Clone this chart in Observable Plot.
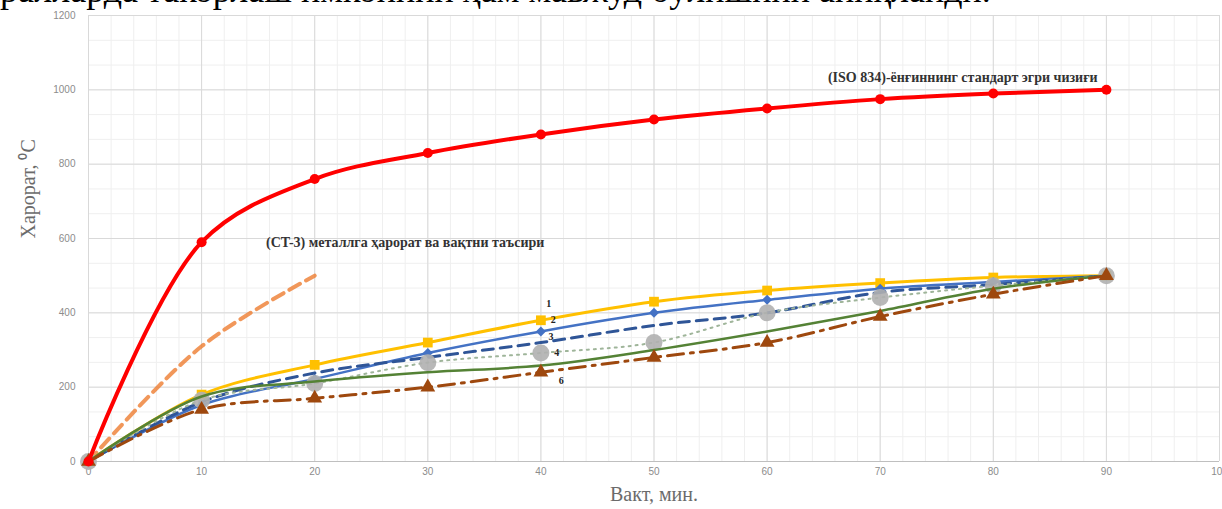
<!DOCTYPE html>
<html><head><meta charset="utf-8">
<script src="https://cdn.jsdelivr.net/npm/d3@7"></script>
<script src="https://cdn.jsdelivr.net/npm/@observablehq/plot@0.6"></script>
<style>
html,body{margin:0;padding:0;background:#fff;overflow:hidden;}
#wrap{position:relative;width:1222px;height:509px;}
#top{position:absolute;left:0;top:-30px;font:36px "Liberation Serif";line-height:40px;color:#000;white-space:nowrap;z-index:2;}
#chart{position:absolute;left:0;top:0;}
</style></head><body>
<div id="wrap"><div id="top">ралларда такорлаш имконини ҳам мавжуд бўлишини аниқлайди.</div><div id="chart"></div></div>
<script>
// ---- data ----
const time = [0, 10, 20, 30, 40, 50, 60, 70, 80, 90];
const iso834 = [0, 590, 760, 830, 880, 920, 950, 975, 990, 1000];
const ct3Time = [0, 10, 20];
const ct3 = [0, 310, 500];
const s1 = [0, 180, 260, 320, 380, 430, 460, 480, 495, 500];
const s2 = [0, 152, 222, 292, 350, 400, 435, 465, 483, 500];
const s3 = [0, 160, 238, 280, 320, 366, 400, 455, 476, 500];
const s4 = [0, 165, 210, 266, 292, 320, 400, 441, 473, 500];
const s5 = [0, 175, 215, 240, 258, 300, 350, 405, 465, 500];
const s6 = [0, 140, 170, 200, 240, 280, 320, 390, 450, 500];
const xTicks = [0, 10, 20, 30, 40, 50, 60, 70, 80, 90, 100];
const yTicks = [0, 200, 400, 600, 800, 1000, 1200];
const xMinor = d3.range(0, 101, 2);
const yMinor = d3.range(0, 1201, 200 / 3);
const seriesLabels = ["1", "2", "3", "4", "6"];
const seriesLabelX = [40.7, 41.1, 40.9, 41.4, 41.8];
const seriesLabelY = [425, 380, 336, 293, 218];
const isoTitle = "(ISO 834)-ёнғиннинг стандарт эгри чизиғи";
const ctTitle = "(CT-3) металлга ҳарорат ва вақтни таъсири";

const tbl = (xs, ys) => xs.map((t, i) => ({t, v: ys[i]}));
const line = (xs, ys, o) => Plot.line(tbl(xs, ys), {x: "t", y: "v", curve: "catmull-rom", ...o});
const dots = (xs, ys, o) => Plot.dot(tbl(xs, ys), {x: "t", y: "v", ...o});
const labs = seriesLabels.map((s, i) => ({s, x: seriesLabelX[i], y: seriesLabelY[i]}));

const chart = Plot.plot({
  width: 1222, height: 509,
  marginLeft: 88, marginRight: 3, marginTop: 15, marginBottom: 48,
  x: {domain: [0, 100], label: null},
  y: {domain: [0, 1200], label: null},
  style: {fontFamily: "Liberation Serif", background: "transparent"},
  marks: [
    Plot.ruleX(xMinor, {stroke: "#efefef", strokeWidth: 1}),
    Plot.ruleY(yMinor, {stroke: "#efefef", strokeWidth: 1}),
    Plot.ruleX(xTicks, {stroke: "#d9d9d9", strokeWidth: 1}),
    Plot.ruleY(yTicks, {stroke: "#d9d9d9", strokeWidth: 1}),
    Plot.ruleY([0], {stroke: "#bfbfbf"}),
    Plot.axisX({ticks: xTicks, tickFormat: d3.format("d"), tickSize: 0, tickPadding: 6, fontSize: 10, color: "#8c8c8c", fontFamily: "Liberation Sans", label: null}),
    Plot.axisY({ticks: yTicks, tickFormat: d3.format("d"), tickSize: 0, tickPadding: 13, fontSize: 10, color: "#8c8c8c", fontFamily: "Liberation Sans", label: null}),
    Plot.text(["Вакт, мин."], {frameAnchor: "bottom", dy: 39, fontSize: 20, fill: "#6b6b6b"}),
    Plot.text(["Харорат, ⁰C"], {frameAnchor: "left", dx: -60, rotate: -90, fontSize: 20, fill: "#6b6b6b"}),
    // CT-3 orange dashed
    line(ct3Time, ct3, {stroke: "#ED7D31", strokeWidth: 4, strokeDasharray: "12,7", strokeOpacity: 0.8}),
    // 1 yellow
    line(time, s1, {stroke: "#FFC000", strokeWidth: 3}),
    dots(time, s1, {symbol: "square", r: 5.5, fill: "#FFC000"}),
    // 2 blue
    line(time, s2, {stroke: "#4472C4", strokeWidth: 2.5}),
    dots(time, s2, {symbol: "diamond2", r: 4.5, fill: "#4472C4"}),
    // 3 dark blue dashed
    line(time, s3, {stroke: "#2F5597", strokeWidth: 3, strokeDasharray: "11,7"}),
    // 4 gray dotted with big circles
    line(time, s4, {stroke: "#9fb59a", strokeWidth: 2, strokeDasharray: "2,5"}),
    dots(time, s4, {symbol: "circle", r: 8.5, fill: "#B0B0B0", fillOpacity: 0.9}),
    // 5 green
    line(time, s5, {stroke: "#548235", strokeWidth: 2.5}),
    // 6 brown dash-dot
    line(time, s6, {stroke: "#9E480E", strokeWidth: 3, strokeDasharray: "16,7,3,7"}),
    dots(time, s6, {symbol: "triangle", r: 5.5, fill: "#9E480E"}),
    // ISO 834 red
    line(time, iso834, {stroke: "#FF0000", strokeWidth: 4}),
    dots(time, iso834, {symbol: "circle", r: 5, fill: "#FF0000"}),
    // annotations
    Plot.text([isoTitle], {x: 77.3, y: 1033, fontSize: 14, fontWeight: "bold", fill: "#333"}),
    Plot.text([ctTitle], {x: 28.0, y: 588, fontSize: 14, fontWeight: "bold", fill: "#333"}),
    Plot.text(labs, {x: "x", y: "y", text: "s", fontSize: 10, fontWeight: "bold", fill: "#222"})
  ]
});
document.getElementById("chart").appendChild(chart);
</script>
</body></html>
